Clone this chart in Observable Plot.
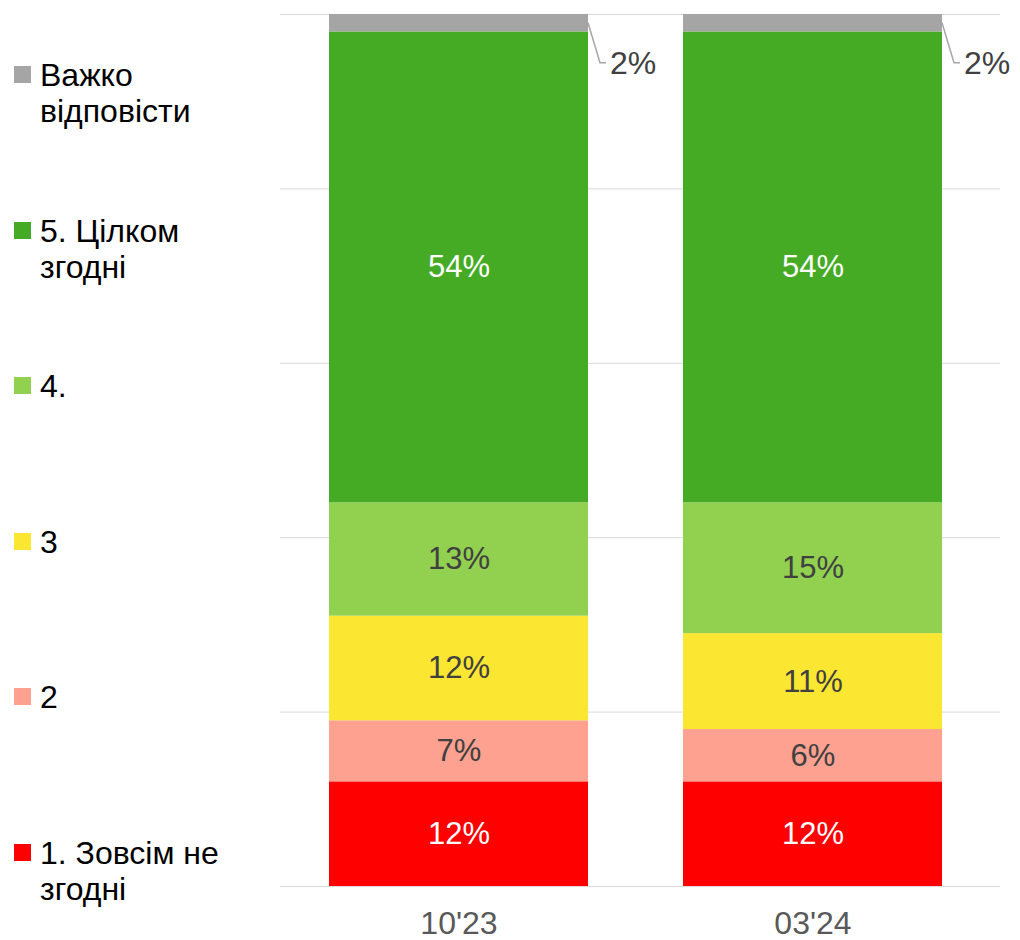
<!DOCTYPE html>
<html><head><meta charset="utf-8">
<script src="https://cdn.jsdelivr.net/npm/d3@7"></script>
<script src="https://cdn.jsdelivr.net/npm/@observablehq/plot@0.6"></script>
<style>
body{margin:0;background:#fff;font-family:"Liberation Sans",Arial,sans-serif;}
#wrap{position:relative;width:1020px;height:940px;}
#legend{position:absolute;left:0;top:0;width:270px;height:940px;}
.item{position:absolute;left:14px;display:flex;align-items:flex-start;font-size:32px;line-height:36px;color:#000;white-space:pre-line;}
.sw{width:17px;height:17px;margin-top:9px;margin-right:9px;flex:none}
</style></head><body><div id="wrap"><div id="legend"></div></div>
<script>
const periods = ["10'23", "03'24"];
const categories = ["1. Зовсім не згодні", "2", "3", "4.", "5. Цілком згодні", "Важко відповісти"];
const legendLabels = ["1. Зовсім не\nзгодні", "2", "3", "4.", "5. Цілком\nзгодні", "Важко\nвідповісти"];
const colors = ["#ff0000", "#ffa191", "#fbe631", "#92d050", "#45aa24", "#a5a5a5"];
const labelColors = ["#ffffff", "#404040", "#404040", "#404040", "#ffffff", "#404040"];
const values1023 = [12, 7, 12, 13, 54, 2];
const values0324 = [12, 6, 11, 15, 54, 2];
const seriesByPeriod = [values1023, values0324];

const data = periods.flatMap((p, j) => categories.map((c, i) => ({
  period: p, category: c, value: seriesByPeriod[j][i], idx: i
})));
const inside = data.filter(d => d.idx < 5);
const outsideIdx = 5;
const FONT = '"Liberation Sans", Arial, sans-serif';

// legend (top item = last category)
const legend = document.getElementById("legend");
const order = d3.range(categories.length).reverse();
order.forEach((ci, k) => {
  const item = document.createElement("div");
  item.className = "item";
  item.style.top = (75 + k * 155.6 - 18) + "px";
  const sw = document.createElement("div");
  sw.className = "sw";
  sw.style.background = colors[ci];
  const tx = document.createElement("div");
  tx.textContent = legendLabels[ci];
  item.appendChild(sw); item.appendChild(tx);
  legend.appendChild(item);
});

function leader(index, scales) {
  const g = d3.create("svg:g");
  const x = scales.x, y = scales.y, bw = x.bandwidth();
  periods.forEach((p, j) => {
    const vals = seriesByPeriod[j];
    const total = d3.sum(vals);
    const v = vals[outsideIdx];
    const xr = x(p) + bw;
    const y0 = y(total - v / 2);
    const y1 = y0 + 40;
    g.append("path")
      .attr("d", `M${xr},${y0}L${xr + 12},${y1}L${xr + 18},${y1}`)
      .attr("fill", "none").attr("stroke", "#a6a6a6").attr("stroke-width", 1.5);
    g.append("text")
      .attr("x", xr + 22).attr("y", y1).attr("dy", "0.35em")
      .attr("text-anchor", "start")
      .attr("font-size", 32).attr("fill", "#404040")
      .attr("font-family", FONT)
      .text(v + "%");
  });
  return g.node();
}

const plot = Plot.plot({
  width: 1020,
  height: 940,
  marginLeft: 280,
  marginRight: 20,
  marginTop: 14,
  marginBottom: 54,
  style: {fontFamily: FONT, background: "transparent"},
  x: {domain: periods, range: [280, 991.5], paddingInner: 0.267, paddingOuter: 0.137, label: null},
  y: {domain: [0, 100], axis: null},
  color: {domain: categories, range: colors},
  marks: [
    Plot.gridY([0, 20, 40, 60, 80, 100], {stroke: "#d9d9d9", strokeOpacity: 1, strokeWidth: 1}),
    Plot.barY(data, {x: "period", y: "value", fill: "category", order: categories}),
    Plot.text(inside, Plot.stackY({
      x: "period", y: "value", z: "category", order: categories,
      text: d => d.value + "%",
      fill: d => labelColors[d.idx],
      fontSize: 31
    })),
    Plot.axisX({tickSize: 0, tickPadding: 25, fontSize: 32, color: "#595959", label: null}),
    leader
  ]
});
document.getElementById("wrap").appendChild(plot);
</script>
</body></html>
